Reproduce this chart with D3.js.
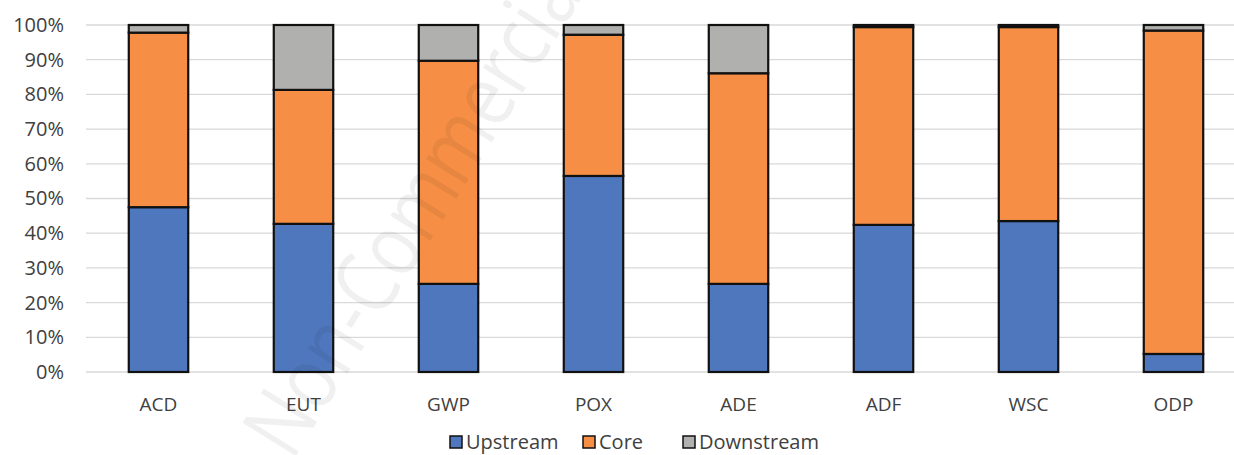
<!DOCTYPE html>
<html>
<head>
<meta charset="utf-8">
<script src="https://cdn.jsdelivr.net/npm/d3@7"></script>
<style>
  body { margin: 0; background: #fff; }
  svg text { font-family: "Open Sans", "Noto Sans", sans-serif; fill: #404040; }
</style>
</head>
<body>
<svg id="chart" width="1234" height="455"></svg>
<script>
// data (shares of 100%)
var categories = ['ACD', 'EUT', 'GWP', 'POX', 'ADE', 'ADF', 'WSC', 'ODP'];
var seriesNames = ['Upstream', 'Core', 'Downstream'];
var upstream   = [47.5, 42.7, 25.4, 56.5, 25.4, 42.4, 43.5, 5.2];
var core       = [50.3, 38.6, 64.3, 40.7, 60.7, 57.0, 55.9, 93.2];
var downstream = [2.2, 18.7, 10.3, 2.8, 13.9, 0.6, 0.6, 1.6];
var yTicks = [0, 10, 20, 30, 40, 50, 60, 70, 80, 90, 100];

var colors = ['#4f77be', '#f68f45', '#b0b0af'];

var svg = d3.select('#chart');
var margin = {top: 25, left: 86, bottom: 83};
var width = 1160, height = 455 - margin.top - margin.bottom;

var rows = categories.map(function (c, i) {
  return {cat: c, Upstream: upstream[i], Core: core[i], Downstream: downstream[i]};
});
var stack = d3.stack().keys(seriesNames)(rows);

var x = d3.scaleBand().domain(categories).range([0, width]).paddingInner(0.59).paddingOuter(0.295);
var y = d3.scaleLinear().domain([0, 100]).range([height, 0]);

var g = svg.append('g').attr('transform', 'translate(' + margin.left + ',' + margin.top + ')');

// gridlines
g.append('g').selectAll('line').data(yTicks).enter().append('line')
  .attr('x1', 0).attr('x2', width)
  .attr('y1', function (d) { return y(d); }).attr('y2', function (d) { return y(d); })
  .attr('stroke', '#d9d9d9').attr('stroke-width', 1.3);

// y axis labels
var yAxis = g.append('g').call(d3.axisLeft(y).tickValues(yTicks).tickSize(0).tickPadding(22)
  .tickFormat(function (d) { return d + '%'; }));
yAxis.select('.domain').remove();
yAxis.selectAll('text').style('font-size', '20px').attr('fill', '#404040');

// bars
var layers = g.selectAll('.layer').data(stack).enter().append('g')
  .attr('class', 'layer').attr('fill', function (d, i) { return colors[i]; });
layers.selectAll('rect').data(function (d) { return d; }).enter().append('rect')
  .attr('x', function (d) { return x(d.data.cat); })
  .attr('width', x.bandwidth())
  .attr('y', function (d) { return y(d[1]); })
  .attr('height', function (d) { return y(d[0]) - y(d[1]); })
  .attr('stroke', '#111').attr('stroke-width', 2.2);

// x axis labels
var xAxis = g.append('g').attr('transform', 'translate(0,' + height + ')')
  .call(d3.axisBottom(x).tickSize(0).tickPadding(26));
xAxis.select('.domain').remove();
xAxis.selectAll('text').style('font-size', '19px').attr('fill', '#404040');

// legend
var legendX = [450, 583, 683];
var legend = svg.append('g').selectAll('g').data(seriesNames).enter().append('g')
  .attr('transform', function (d, i) { return 'translate(' + legendX[i] + ',436)'; });
legend.append('rect').attr('width', 12).attr('height', 12)
  .attr('fill', function (d, i) { return colors[i]; })
  .attr('stroke', '#111').attr('stroke-width', 1.5);
legend.append('text').attr('x', 16).attr('y', 13).style('font-size', '20px').text(function (d) { return d; });

// watermark, runs off the top edge as in the source
svg.append('text')
  .attr('transform', 'translate(292,462) rotate(-58)')
  .attr('textLength', 570).attr('lengthAdjust', 'spacingAndGlyphs')
  .style('font-size', '88px')
  .style('fill', '#000').style('fill-opacity', 0.06)
  .text('Non-Commercial');
</script>
</body>
</html>
